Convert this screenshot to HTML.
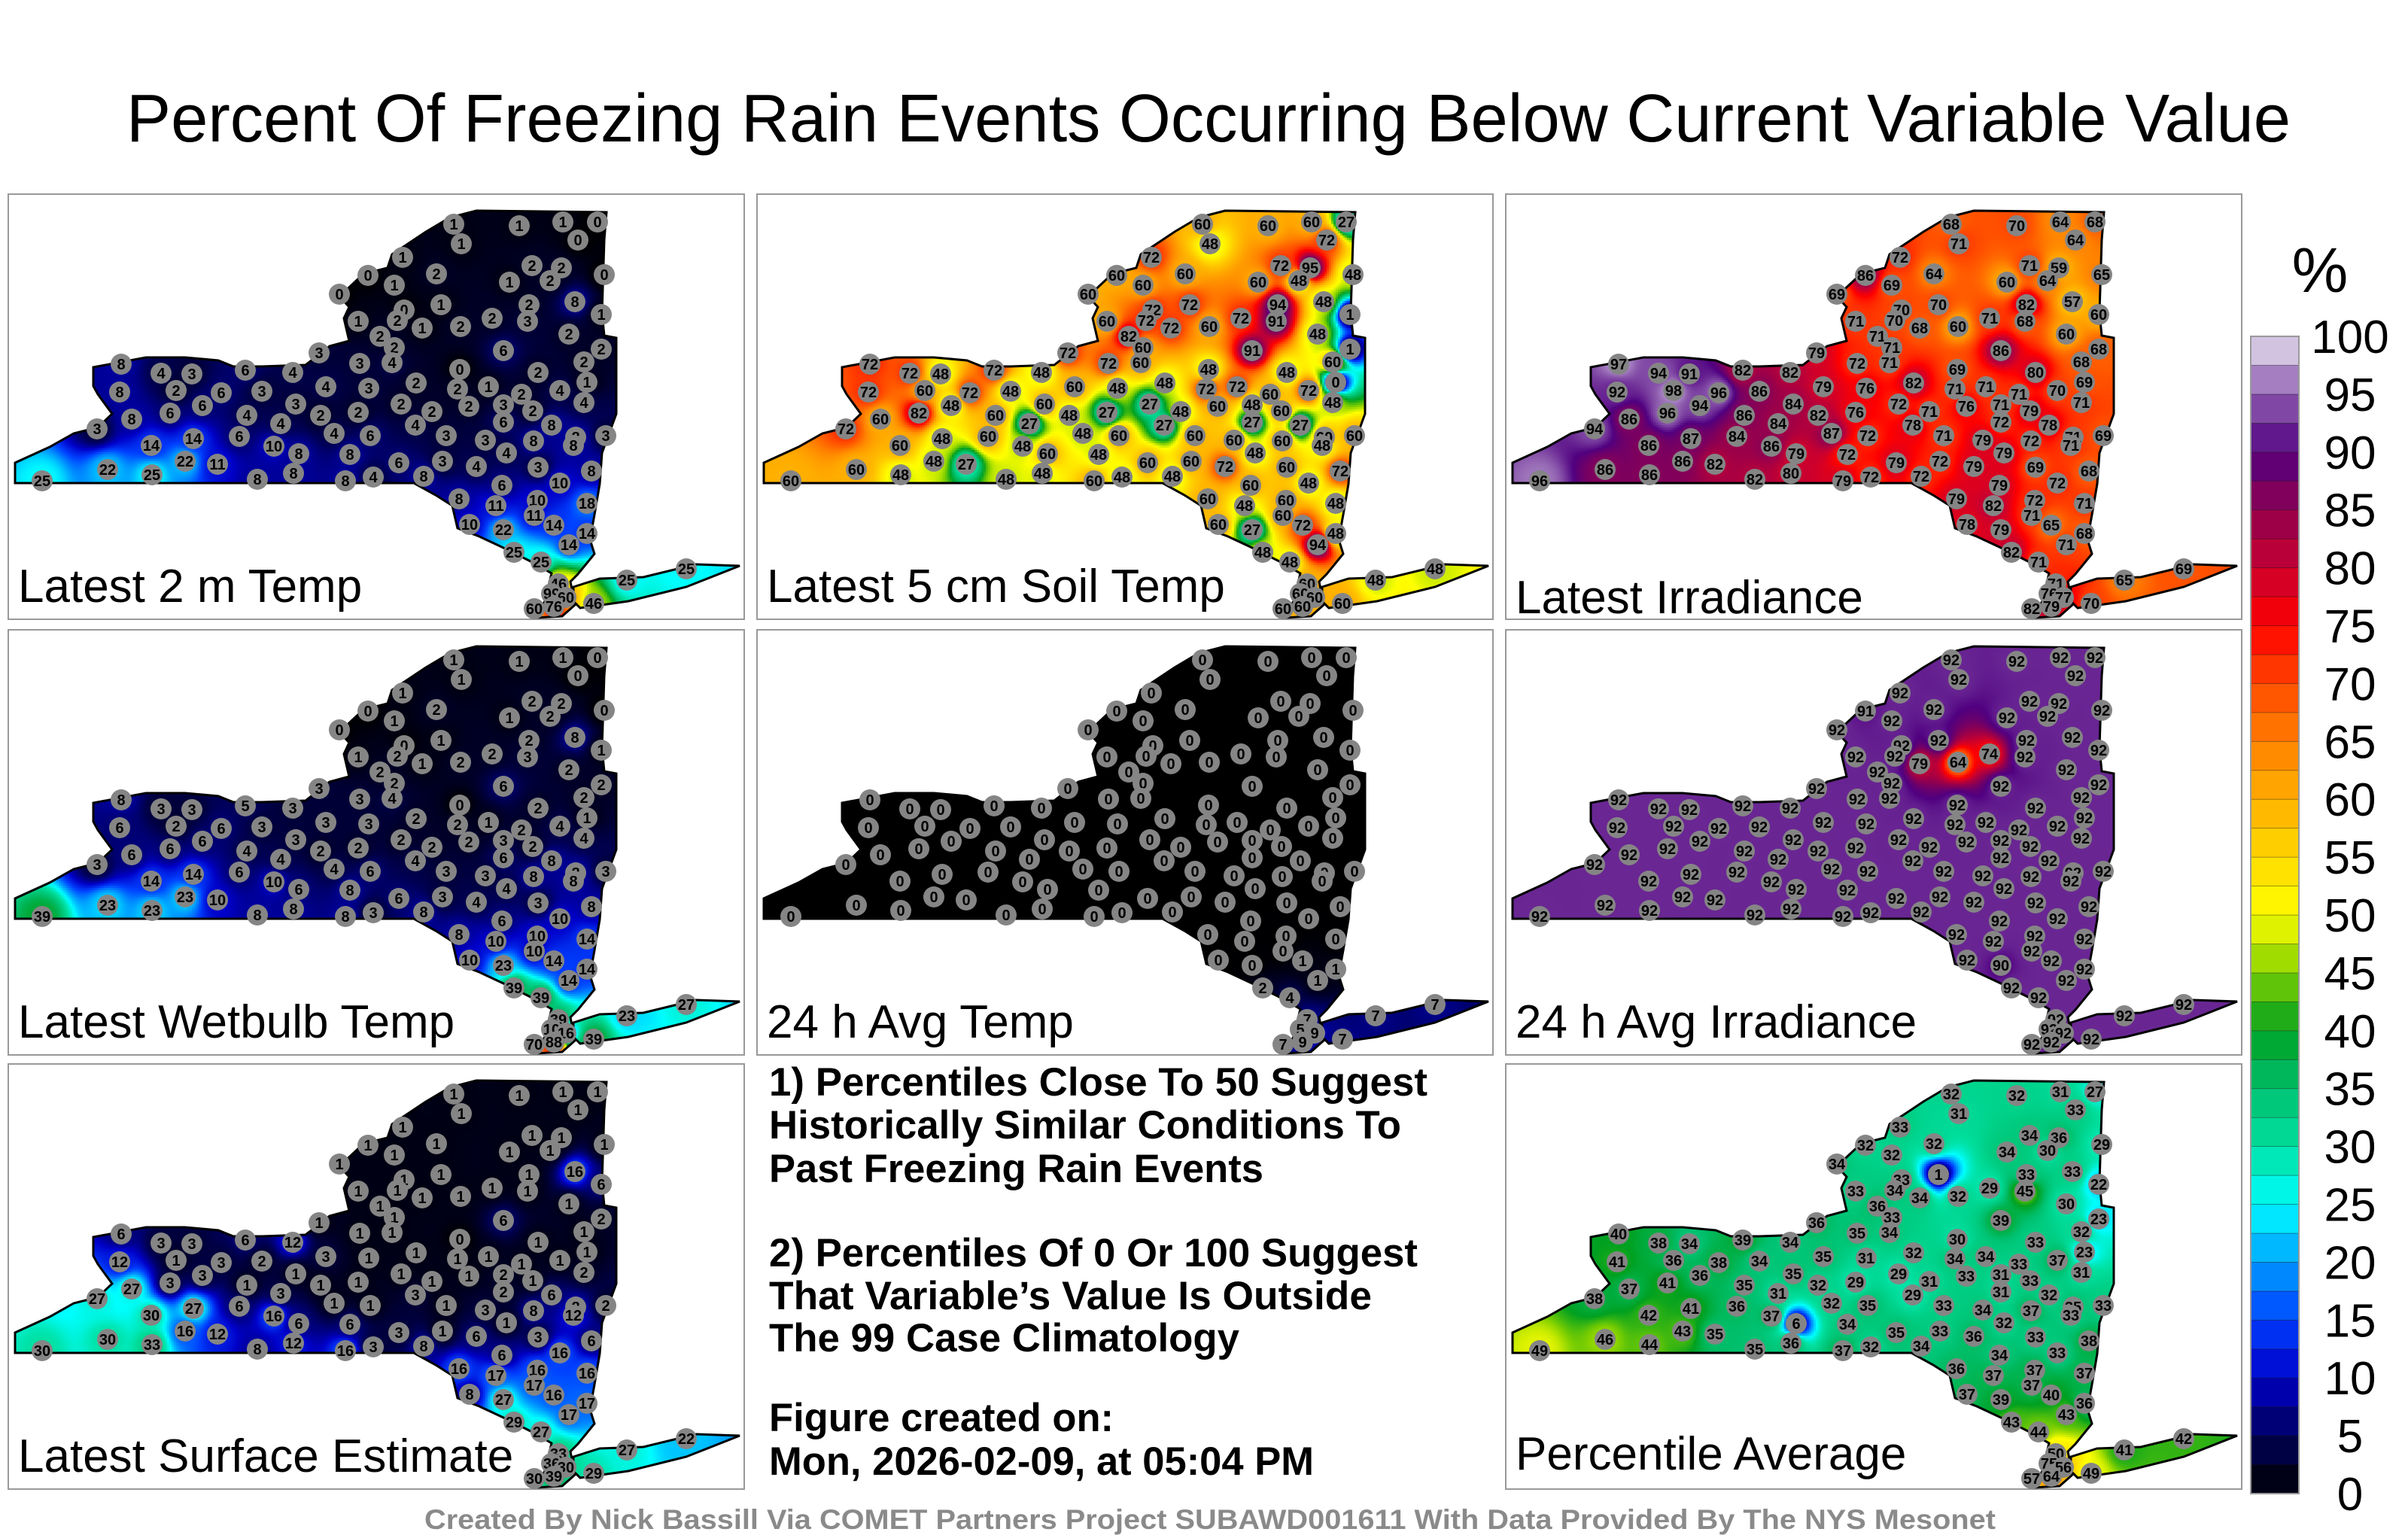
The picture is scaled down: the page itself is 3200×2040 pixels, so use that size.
<!DOCTYPE html>
<html><head><meta charset="utf-8">
<style>
html,body{margin:0;padding:0;background:#fff;}
#root{position:relative;width:3200px;height:2040px;overflow:hidden;background:#fff;font-family:"Liberation Sans",sans-serif;}
.panel{position:absolute;width:980px;height:567px;box-sizing:border-box;border:2px solid #999;background:#fff;}
.panel canvas,.panel svg{position:absolute;left:0;top:0;}
</style></head>
<body>
<div id="root">
<svg id="overlay" width="3200" height="2040" style="position:absolute;left:0;top:0;z-index:5">
  <text x="1606" y="188" text-anchor="middle" font-size="90" textLength="2876" lengthAdjust="spacingAndGlyphs" fill="#000">Percent Of Freezing Rain Events Occurring Below Current Variable Value</text>
  <g font-weight="bold" font-size="53" fill="#000">
    <text x="1022" y="1456" textLength="875" lengthAdjust="spacingAndGlyphs">1) Percentiles Close To 50 Suggest</text>
    <text x="1022" y="1513" textLength="840" lengthAdjust="spacingAndGlyphs">Historically Similar Conditions To</text>
    <text x="1022" y="1571" textLength="657" lengthAdjust="spacingAndGlyphs">Past Freezing Rain Events</text>
    <text x="1022" y="1683" textLength="862" lengthAdjust="spacingAndGlyphs">2) Percentiles Of 0 Or 100 Suggest</text>
    <text x="1022" y="1740" textLength="801" lengthAdjust="spacingAndGlyphs">That Variable’s Value Is Outside</text>
    <text x="1022" y="1796" textLength="625" lengthAdjust="spacingAndGlyphs">The 99 Case Climatology</text>
    <text x="1022" y="1902" textLength="458" lengthAdjust="spacingAndGlyphs">Figure created on:</text>
    <text x="1022" y="1960" textLength="724" lengthAdjust="spacingAndGlyphs">Mon, 2026-02-09, at 05:04 PM</text>
  </g>
  <text x="1608" y="2032" text-anchor="middle" font-size="37" font-weight="bold" fill="#8a8a8a" textLength="2088" lengthAdjust="spacingAndGlyphs">Created By Nick Bassill Via COMET Partners Project SUBAWD001611 With Data Provided By The NYS Mesonet</text>
  <g id="cbar"></g>
  <text x="3083" y="388" text-anchor="middle" font-size="84" fill="#000">%</text>
</svg>
</div>
<script>
// ---- Data ----
const stationX = [591,678,736,782,756,601,523,477,568,665,695,734,719,791,439,512,752,691,787,525,464,516,549,600,642,689,744,493,512,657,787,412,466,509,764,599,703,149,202,243,314,377,768,147,222,282,336,421,478,541,596,637,681,732,764,257,381,464,521,611,657,696,163,214,316,361,414,562,657,721,117,245,306,432,480,540,581,633,697,753,793,189,352,453,661,750,131,234,277,518,576,621,703,774,44,190,330,378,447,484,551,655,732,598,647,702,768,698,724,768,612,657,744,671,707,730,721,740,698,724,777,821,900,574,385];
const stationY = [39,41,36,36,60,65,83,107,105,116,94,97,114,106,132,120,142,146,159,153,168,167,177,175,164,168,185,188,203,207,205,210,224,223,222,232,236,225,237,238,233,236,249,262,260,263,261,255,257,250,258,255,265,260,276,280,278,289,278,281,279,287,298,290,293,304,293,288,302,306,311,324,321,317,320,306,320,326,327,322,320,333,334,345,343,333,365,354,358,356,354,361,362,367,380,372,378,370,380,375,374,386,383,404,413,406,410,426,439,450,438,445,465,475,488,517,530,535,550,547,543,512,497,146,344];
const valsTemp2m = [1,1,1,0,0,1,1,0,2,1, 2,2,2,0,0,1,8,2,1,0, 1,2,1,2,2,3,2,2,2,6, 2,3,3,4,2,0,2,8,4,3, 6,4,1,8,2,6,3,4,3,2, 2,1,2,4,4,6,3,2,2,2, 3,2,8,6,4,4,2,2,6,8, 3,14,6,4,6,4,3,3,8,8, 3,14,10,8,4,8,22,22,11,6, 3,4,3,8,25,25,8,8,8,4, 8,6,10,8,11,10,18,11,14,14, 10,22,14,25,25,46,99,60,60,76, 46,25,25,1,8];
const valsSoil = [60,60,60,27,72,48,72,60,60,60, 72,95,48,48,60,60,48,94,1,72, 60,72,72,60,72,91,48,82,60,91, 1,72,72,60,60,48,48,72,72,48, 72,48,0,72,60,72,48,60,48,48, 72,72,60,72,48,48,60,27,27,60, 48,60,60,82,60,27,48,48,27,27, 72,48,60,48,60,27,60,60,60,60, 60,60,48,48,48,48,60,48,27,60, 60,72,60,72,60,48,48,48,60,48, 48,60,48,60,48,60,48,60,72,48, 60,27,94,48,48,60,60,60,60,60, 60,48,48,72,60];
const valsIrr = [68,70,64,68,64,71,72,86,64,60, 71,59,64,65,69,69,57,82,60,70, 71,70,68,60,71,68,60,71,71,86, 68,79,72,71,68,69,80,97,94,91, 82,82,69,92,98,96,86,79,76,82, 71,71,71,70,71,94,84,76,72,76, 71,79,86,96,86,84,82,71,72,78, 94,87,84,87,72,78,71,79,72,71, 69,86,86,72,79,71,86,86,82,79, 72,79,69,68,96,86,82,80,79,72, 72,79,72,79,82,72,71,71,65,68, 78,79,71,82,71,71,76,77,82,79, 70,65,69,70,79];
const valsAvgTemp = [0,0,0,0,0,0,0,0,0,0, 0,0,0,0,0,0,0,0,0,0, 0,0,0,0,0,0,0,0,0,0, 0,0,0,0,0,0,0,0,0,0, 0,0,0,0,0,0,0,0,0,0, 0,0,0,0,0,0,0,0,0,0, 0,0,0,0,0,0,0,0,0,0, 0,0,0,0,0,0,0,0,0,0, 0,0,0,0,0,0,0,0,0,0, 0,0,0,0,0,0,0,0,0,0, 0,0,0,0,0,0,0,0,1,1, 0,0,1,2,4,7,5,9,7,9, 7,7,7,0,0];
const valsWetbulb = [1,1,1,0,0,1,1,0,2,1, 2,2,2,0,0,1,8,2,1,0, 1,2,1,2,2,3,2,2,2,6, 2,3,3,4,2,0,2,8,3,3, 5,3,1,6,2,6,3,3,3,2, 2,1,2,4,4,6,3,2,2,2, 3,2,6,6,4,4,2,2,6,8, 3,14,6,4,6,4,3,3,8,8, 3,14,10,8,4,8,23,23,10,6, 3,4,3,8,39,23,8,8,8,3, 8,6,10,8,10,10,14,10,14,14, 10,23,14,39,39,39,10,16,70,88, 39,23,27,1,6];
const valsAvgIrr = [92,92,92,92,92,92,92,91,92,92, 92,92,92,92,92,92,92,92,92,92, 92,92,79,64,74,92,92,92,92,92, 92,92,92,92,92,92,92,92,92,92, 92,92,92,92,92,92,92,92,92,92, 92,92,92,92,92,92,92,92,92,92, 92,92,92,92,92,92,92,92,92,92, 92,92,92,92,92,92,92,92,92,92, 92,92,92,92,92,92,92,92,92,92, 92,92,92,92,92,92,92,92,92,92, 92,92,92,92,92,92,92,92,92,92, 92,90,92,92,92,92,92,92,92,92, 92,92,92,92,92];
const valsSurface = [1,1,1,1,1,1,1,1,1,1, 1,1,1,1,1,1,16,1,6,1, 1,1,1,1,1,1,1,1,1,6, 2,1,1,1,1,0,1,6,3,3, 6,12,1,12,1,3,2,3,1,1, 1,1,1,1,2,3,1,1,1,1, 2,1,27,3,1,3,1,1,2,6, 27,27,6,1,1,3,1,3,8,8, 2,30,16,6,1,12,30,16,12,3, 1,6,3,6,30,33,8,12,16,3, 8,6,16,16,17,16,16,17,16,17, 8,27,17,29,27,33,36,30,30,39, 29,27,22,1,6];
const valsAverage = [32,32,31,27,33,31,33,32,32,34, 34,36,30,29,34,32,33,33,22,33, 33,34,34,32,29,45,30,36,33,39, 23,36,35,34,32,30,33,40,38,34, 39,34,23,41,36,38,34,35,31,32, 34,34,33,37,31,36,35,29,29,33, 31,33,37,41,35,31,32,31,31,32, 38,41,36,32,35,29,33,34,37,35, 33,42,37,34,32,33,46,43,35,35, 33,36,33,38,49,44,35,36,37,32, 34,34,33,36,37,37,37,37,40,36, 37,39,43,43,44,50,75,56,57,64, 49,41,42,1,6];
const panelTitles = ["Latest 2 m Temp","Latest 5 cm Soil Temp","Latest Irradiance","Latest Wetbulb Temp","24 h Avg Temp","24 h Avg Irradiance","Latest Surface Estimate","Percentile Average"];
const cbarTicks = [0,5,10,15,20,25,30,35,40,45,50,55,60,65,70,75,80,85,90,95,100];
const cmapStops = [[0,[0,0,0]],[5,[0,0,90]],[10,[0,0,200]],[15,[0,64,255]],[20,[0,160,255]],[25,[0,255,255]],[30,[0,224,160]],[35,[0,192,110]],[40,[0,160,32]],[45,[128,208,0]],[50,[255,255,0]],[55,[255,216,0]],[60,[255,176,0]],[65,[255,128,0]],[70,[255,72,0]],[75,[255,0,0]],[80,[200,0,48]],[85,[144,0,80]],[90,[80,0,128]],[95,[144,96,176]],[98,[192,168,216]],[100,[240,240,240]]];

// ---- Layout ----
const panelDefs = [
  {vals:valsTemp2m,x:10,y:257,ly:541},
  {vals:valsSoil,x:1005,y:257,ly:541},
  {vals:valsIrr,x:2000,y:257,ly:556},
  {vals:valsWetbulb,x:10,y:836,ly:541},
  {vals:valsAvgTemp,x:1005,y:836,ly:541},
  {vals:valsAvgIrr,x:2000,y:836,ly:541},
  {vals:valsSurface,x:10,y:1413,ly:541},
  {vals:valsAverage,x:2000,y:1413,ly:538}
];
const mainland = [[8,356],[8,383],[538,383],[567,399],[589,413],[596,443],[625,454],[657,469],[695,488],[721,503],[712,540],[700,562],[735,560],[752,545],[746,514],[756,504],[778,477],[772,458],[778,425],[785,384],[788,343],[807,291],[807,190],[791,187],[788,157],[791,60],[794,23],[621,21],[586,30],[554,49],[509,79],[503,97],[471,105],[439,135],[452,149],[445,164],[452,194],[426,201],[394,226],[336,228],[298,228],[278,220],[234,216],[182,216],[112,229],[112,254],[118,265],[137,291],[118,309],[86,317],[54,335]];
const longIsland = [[750,521],[785,510],[843,508],[913,491],[971,493],[900,521],[823,540],[759,549],[750,540]];
function pathD(pts){return 'M'+pts.map(p=>p[0]+','+p[1]).join('L')+'Z';}
const shapeD = pathD(mainland)+pathD(longIsland);

function cmap(v){
  v=Math.max(0,Math.min(100,v));
  for(let i=0;i<cmapStops.length-1;i++){
    const a=cmapStops[i],b=cmapStops[i+1];
    if(v<=b[0]){const t=(v-a[0])/(b[0]-a[0]);return a[1].map((c,k)=>Math.round(c+(b[1][k]-c)*t));}
  }
  return cmapStops[cmapStops.length-1][1];
}
const SVGNS='http://www.w3.org/2000/svg';
const root=document.getElementById('root');
const W=980,H=567,STEP=3;

panelDefs.forEach((pd,pi)=>{
  const div=document.createElement('div');
  div.className='panel';
  div.style.left=pd.x+'px';div.style.top=pd.y+'px';
  
  
  root.appendChild(div);
  const cv=document.createElement('canvas');
  cv.width=W;cv.height=H;
  
  
  div.appendChild(cv);
  const ctx=cv.getContext('2d');
  ctx.save();
  ctx.clip(new Path2D(shapeD));
  for(let gy=0;gy<H;gy+=STEP){
    for(let gx=0;gx<W;gx+=STEP){
      if(gy<15||gy>570) continue;
      let ws=0,vs=0,hit=-1;
      const cx=gx+STEP/2,cy=gy+STEP/2;
      for(let s=0;s<stationX.length;s++){
        const dx=cx-stationX[s],dy=cy-stationY[s];
        const d2=dx*dx+dy*dy;
        if(d2<1){hit=s;break;}
        const w=1/(d2*Math.sqrt(d2));
        ws+=w;vs+=w*pd.vals[s];
      }
      const v=hit>=0?pd.vals[hit]:vs/ws;
      const c=cmap(v);
      ctx.fillStyle='rgb('+c[0]+','+c[1]+','+c[2]+')';
      ctx.fillRect(gx,gy,STEP,STEP);
    }
  }
  ctx.restore();
  const svg=document.createElementNS(SVGNS,'svg');
  svg.setAttribute('width',W);svg.setAttribute('height',H);
  
  
  div.appendChild(svg);
  const outline=document.createElementNS(SVGNS,'path');
  outline.setAttribute('d',shapeD);
  outline.setAttribute('fill','none');outline.setAttribute('stroke','#000');outline.setAttribute('stroke-width','3');
  
  
  svg.appendChild(outline);
  for(let s=0;s<stationX.length;s++){
    const g=document.createElementNS(SVGNS,'g');
    
    
    const c=document.createElementNS(SVGNS,'ellipse');
    c.setAttribute('cx',stationX[s]);c.setAttribute('cy',stationY[s]);
    c.setAttribute('rx',14);c.setAttribute('ry',14);c.setAttribute('fill','#858585');
    g.appendChild(c);
    const t=document.createElementNS(SVGNS,'text');
    t.setAttribute('x',stationX[s]);t.setAttribute('y',stationY[s]+7);
    t.setAttribute('text-anchor','middle');t.setAttribute('font-size','20');t.setAttribute('font-weight','bold');
    t.setAttribute('font-family','Liberation Sans, sans-serif');
    t.textContent=String(pd.vals[s]);
    g.appendChild(t);
    svg.appendChild(g);
  }
  const lab=document.createElementNS(SVGNS,'text');
  lab.setAttribute('x',12);lab.setAttribute('y',pd.ly);
  lab.setAttribute('font-size','62');lab.setAttribute('font-family','Liberation Sans, sans-serif');
  lab.textContent=panelTitles[pi];
  
  
  svg.appendChild(lab);
});

// ---- Colorbar ----
const cb=document.getElementById('cbar');
const cbX=2991,cbW=64,cbTop=447,cbBot=1985;
function cbY(v){return cbBot-(v/100)*(cbBot-cbTop);}
for(let v=0;v<100;v+=2.5){
  const r=document.createElementNS(SVGNS,'rect');
  const c=cmap(v+1.25);
  r.setAttribute('x',cbX);r.setAttribute('y',cbY(v+2.5));
  r.setAttribute('width',cbW);r.setAttribute('height',cbY(v)-cbY(v+2.5));
  r.setAttribute('fill','rgb('+c[0]+','+c[1]+','+c[2]+')');
  r.setAttribute('stroke','rgba(0,0,0,0.35)');r.setAttribute('stroke-width','0.8');
  
  
  cb.appendChild(r);
}
const frame=document.createElementNS(SVGNS,'rect');
frame.setAttribute('x',cbX);frame.setAttribute('y',cbTop);frame.setAttribute('width',cbW);frame.setAttribute('height',cbBot-cbTop);
frame.setAttribute('fill','none');frame.setAttribute('stroke','#999');frame.setAttribute('stroke-width','2');


cb.appendChild(frame);
cbarTicks.forEach(v=>{
  const t=document.createElementNS(SVGNS,'text');
  t.setAttribute('x',3123);t.setAttribute('y',cbY(v)+22);
  t.setAttribute('text-anchor','middle');t.setAttribute('font-size','62');
  t.setAttribute('font-family','Liberation Sans, sans-serif');
  t.textContent=String(v);
  
  
  cb.appendChild(t);
});
</script>
</body></html>
